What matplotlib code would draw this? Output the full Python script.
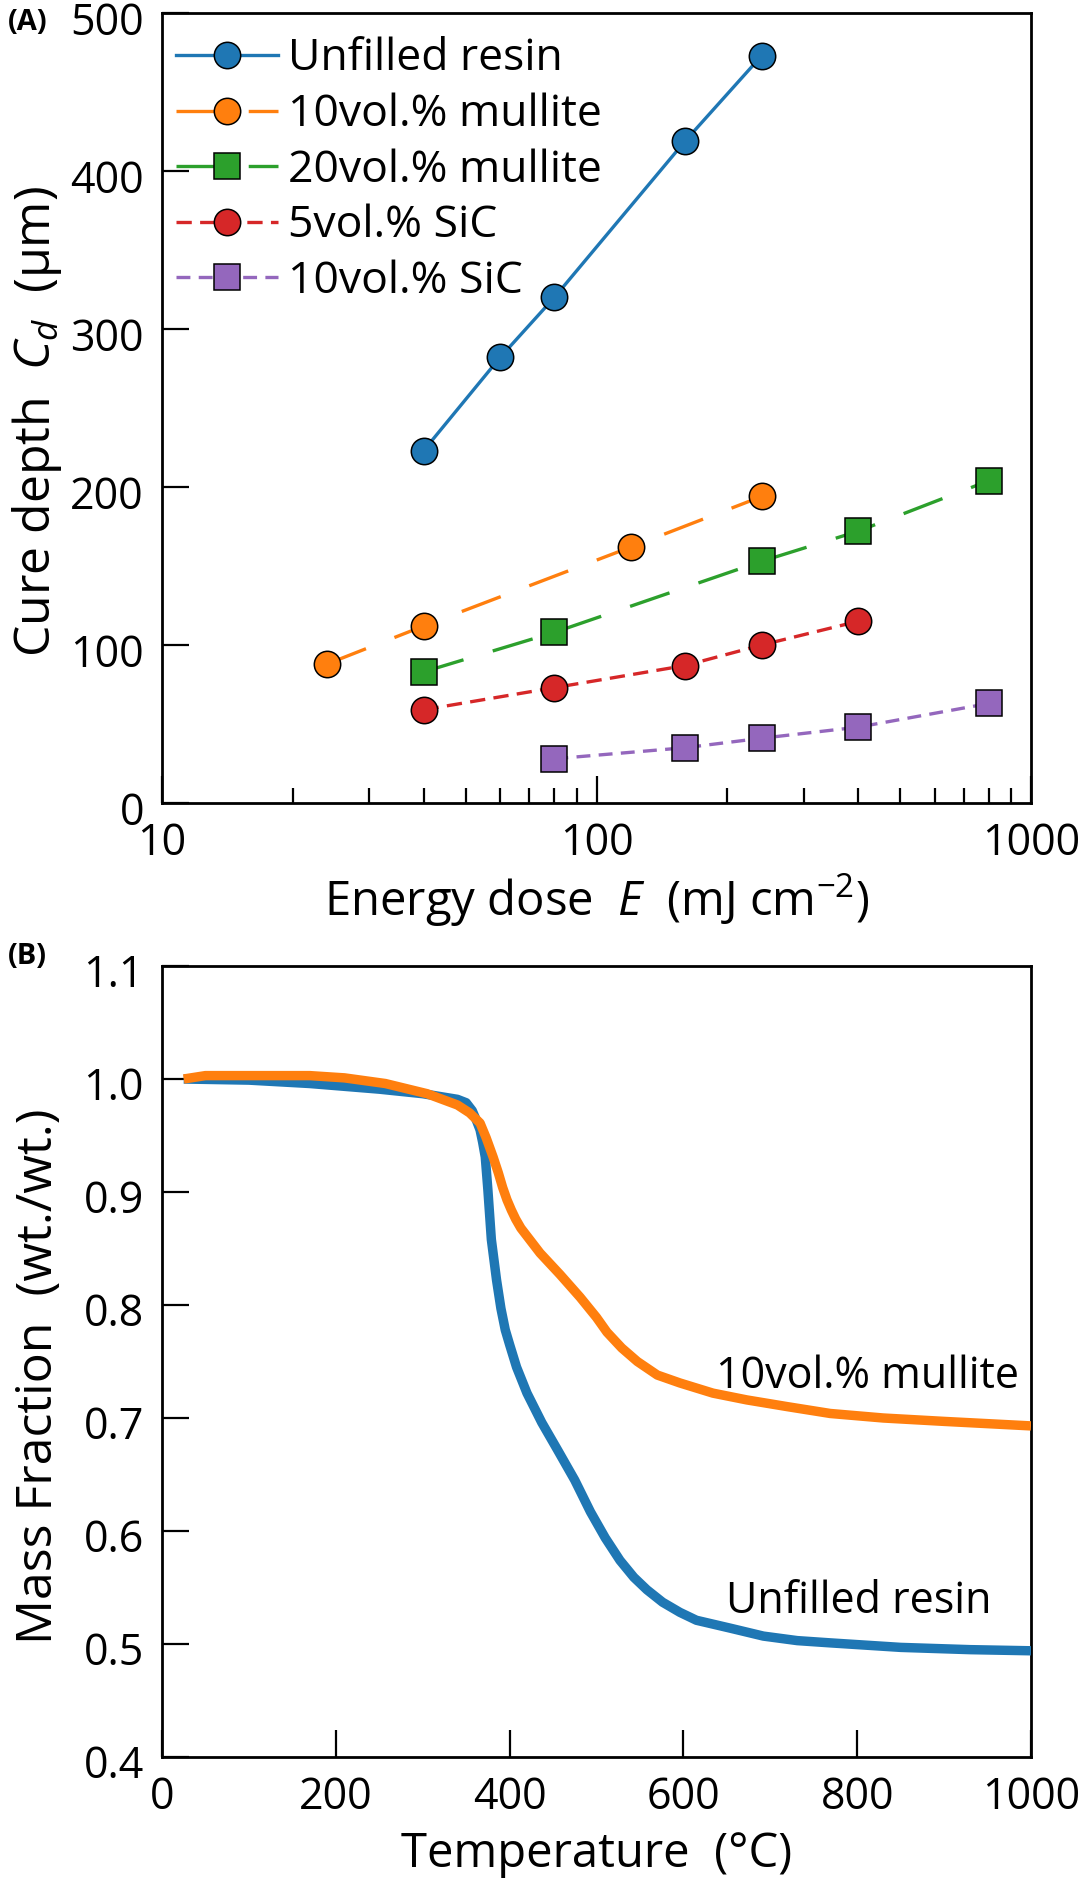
import matplotlib
matplotlib.use("Agg")
import matplotlib.pyplot as plt
import matplotlib.transforms as mtransforms
from matplotlib.ticker import NullFormatter, LogLocator, FixedLocator

# ---------------- data: panel A (cure depth vs energy dose) ----------------
series_labels = ["Unfilled resin", "10vol.% mullite", "20vol.% mullite",
                 "5vol.% SiC", "10vol.% SiC"]
energy_unfilled = [40, 60, 80, 160, 240]
cd_unfilled = [223, 282, 320, 419, 473]
energy_mullite10 = [24, 40, 120, 240]
cd_mullite10 = [88, 112, 162, 194]
energy_mullite20 = [40, 80, 240, 400, 800]
cd_mullite20 = [83, 108, 153, 172, 204]
energy_sic5 = [40, 80, 160, 240, 400]
cd_sic5 = [59, 73, 87, 100, 115]
energy_sic10 = [80, 160, 240, 400, 800]
cd_sic10 = [28, 35, 41, 48, 63]

xticks_a = [10, 100, 1000]
xticklabels_a = ["10", "100", "1000"]
yticks_a = [0, 100, 200, 300, 400, 500]
yticklabels_a = ["0", "100", "200", "300", "400", "500"]

# ---------------- data: panel B (TGA) ----------------
temp_unfilled = [25, 100, 170, 250, 300, 340, 350, 357, 362, 366, 369, 372, 375,
                 379, 385, 390, 395, 400, 408, 420, 437, 455, 475, 493, 510, 527,
                 543, 558, 576, 596, 615, 654, 692, 731, 769, 850, 930, 1000]
mass_unfilled = [1.000, 0.999, 0.996, 0.991, 0.987, 0.982, 0.979, 0.972, 0.963,
                 0.955, 0.944, 0.931, 0.902, 0.858, 0.822, 0.797, 0.778, 0.765,
                 0.745, 0.722, 0.696, 0.672, 0.645, 0.617, 0.594, 0.574, 0.559,
                 0.548, 0.537, 0.528, 0.521, 0.514, 0.507, 0.503, 0.501, 0.497,
                 0.495, 0.494]
temp_mullite10 = [25, 50, 170, 210, 257, 305, 340, 354, 366, 373, 381, 387, 392,
                  397, 402, 407, 413, 423, 435, 458, 481, 500, 512, 529, 547, 570,
                  596, 634, 673, 720, 769, 830, 900, 1000]
mass_mullite10 = [1.000, 1.003, 1.003, 1.001, 0.996, 0.987, 0.977, 0.970, 0.961,
                  0.948, 0.931, 0.917, 0.904, 0.893, 0.884, 0.876, 0.868, 0.858,
                  0.846, 0.827, 0.807, 0.789, 0.776, 0.762, 0.750, 0.738, 0.731,
                  0.722, 0.716, 0.710, 0.704, 0.700, 0.697, 0.693]
xticks_b = [0, 200, 400, 600, 800, 1000]
xticklabels_b = ["0", "200", "400", "600", "800", "1000"]
yticks_b = [0.4, 0.5, 0.6, 0.7, 0.8, 0.9, 1.0, 1.1]
yticklabels_b = ["0.4", "0.5", "0.6", "0.7", "0.8", "0.9", "1.0", "1.1"]

# ---------------- style ----------------
FONT = "Open Sans"
plt.rcParams["font.family"] = [FONT, "DejaVu Sans"]
plt.rcParams["mathtext.fontset"] = "custom"
plt.rcParams["mathtext.rm"] = FONT
plt.rcParams["mathtext.it"] = FONT + ":italic"
plt.rcParams["mathtext.bf"] = FONT + ":bold"
plt.rcParams["lines.scale_dashes"] = False

C_BLUE = "#1f77b4"
C_ORANGE = "#ff7f0e"
C_GREEN = "#2ca02c"
C_RED = "#d62728"
C_PURPLE = "#9467bd"

TICK_FS = 31
LABEL_FS = 34
YLABEL_FS = 36
W, H = 1080, 1878
fig = plt.figure(figsize=(W / 100, H / 100), dpi=100)


def axes_px(left, top, right, bottom):
    return fig.add_axes([left / W, 1 - bottom / H, (right - left) / W, (bottom - top) / H])


def style_axes(ax):
    for sp in ax.spines.values():
        sp.set_linewidth(2.0)
        sp.set_color("black")
    ax.tick_params(axis="both", which="major", direction="in", length=19.5, width=1.6,
                   labelsize=TICK_FS, pad=13, top=False, right=False)
    ax.tick_params(axis="both", which="minor", direction="in", length=11, width=1.6,
                   top=False, right=False)


def shift_ytick_labels(ax, dy_px):
    off = mtransforms.ScaledTranslation(0, dy_px / 100, fig.dpi_scale_trans)
    for lab in ax.get_yticklabels():
        lab.set_transform(lab.get_transform() + off)


# ---------------- panel A ----------------
axA = axes_px(162, 13, 1031, 803)
lw = 2.4
ms = 19
mew = 1.1
axA.plot(energy_unfilled, cd_unfilled, "-", color=C_BLUE, lw=lw, marker="o", ms=ms,
         mfc=C_BLUE, mec="black", mew=mew, label=series_labels[0], zorder=5)
axA.plot(energy_mullite10, cd_mullite10, color=C_ORANGE, lw=lw, dashes=(30, 22),
         marker="o", ms=ms, mfc=C_ORANGE, mec="black", mew=mew, label=series_labels[1], zorder=4)
axA.plot(energy_mullite20, cd_mullite20, color=C_GREEN, lw=lw, dashes=(30, 22),
         marker="s", ms=ms, mfc=C_GREEN, mec="black", mew=mew, label=series_labels[2], zorder=4)
axA.plot(energy_sic5, cd_sic5, color=C_RED, lw=lw, dashes=(11, 6),
         marker="o", ms=ms, mfc=C_RED, mec="black", mew=mew, label=series_labels[3], zorder=4)
axA.plot(energy_sic10, cd_sic10, color=C_PURPLE, lw=lw, dashes=(10, 6),
         marker="s", ms=ms, mfc=C_PURPLE, mec="black", mew=mew, label=series_labels[4], zorder=4)

axA.set_xscale("log")
axA.set_xlim(10, 1000)
axA.set_ylim(0, 500)
axA.xaxis.set_major_locator(FixedLocator(xticks_a))
axA.set_xticklabels(xticklabels_a)
axA.xaxis.set_minor_locator(LogLocator(base=10, subs=[2, 3, 4, 5, 6, 7, 8, 9]))
axA.xaxis.set_minor_formatter(NullFormatter())
axA.set_yticks(yticks_a)
axA.set_yticklabels(yticklabels_a)
style_axes(axA)
shift_ytick_labels(axA, -5)

axA.set_xlabel(r"Energy dose  $E$  (mJ cm$^{-2}$)", fontsize=LABEL_FS, va="baseline")
axA.xaxis.set_label_coords(0.5, -(916 - 803) / 790)
axA.set_ylabel(r"Cure depth  $C_d$  (μm)", fontsize=YLABEL_FS, va="baseline")
axA.yaxis.set_label_coords(-(162 - 50) / 869, (803 - 421) / 790)

leg = axA.legend(loc="upper left", bbox_to_anchor=((176 - 162) / 869, 1 - 24 / 790),
                 frameon=False, fontsize=32, handlelength=2.3, handletextpad=0.22,
                 labelspacing=0.25, borderpad=0, borderaxespad=0, numpoints=1)

# ---------------- panel B ----------------
axB = axes_px(162, 966, 1031, 1757)
axB.plot(temp_unfilled, mass_unfilled, "-", color=C_BLUE, lw=6.8,
         solid_joinstyle="round", solid_capstyle="butt", zorder=3)
axB.plot(temp_mullite10, mass_mullite10, "-", color=C_ORANGE, lw=6.8,
         solid_joinstyle="round", solid_capstyle="butt", zorder=4)
axB.set_xlim(0, 1000)
axB.set_ylim(0.4, 1.1)
axB.set_xticks(xticks_b)
axB.set_xticklabels(xticklabels_b)
axB.set_yticks(yticks_b)
axB.set_yticklabels(yticklabels_b)
style_axes(axB)
shift_ytick_labels(axB, -4)

axB.text(986, 0.7265, series_labels[1], fontsize=31, ha="right", va="baseline")
axB.text(955, 0.527, series_labels[0], fontsize=31, ha="right", va="baseline")

axB.set_xlabel("Temperature  (°C)", fontsize=LABEL_FS, va="baseline")
axB.xaxis.set_label_coords(0.5, -(1867 - 1757) / 791)
axB.set_ylabel("Mass Fraction  (wt./wt.)", fontsize=YLABEL_FS, va="baseline")
axB.yaxis.set_label_coords(-(162 - 52) / 869, (1757 - 1376) / 791)

# panel letters
fig.text(8 / W, 1 - 8 / H, "(A)", fontsize=21, fontweight="bold", ha="left", va="top")
fig.text(8 / W, 1 - 942 / H, "(B)", fontsize=21, fontweight="bold", ha="left", va="top")

fig.savefig("out.png", dpi=100)
